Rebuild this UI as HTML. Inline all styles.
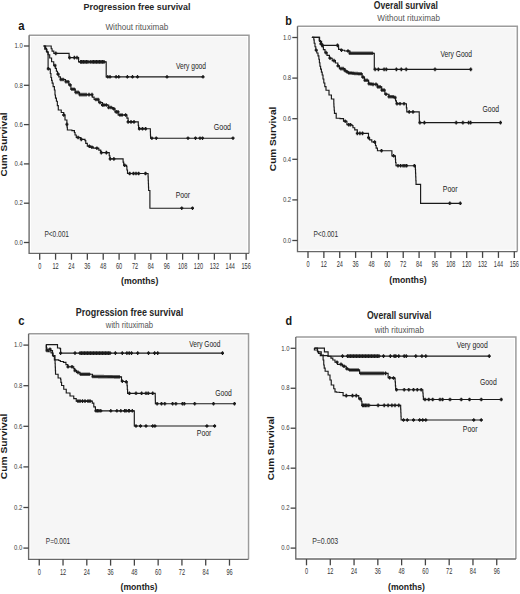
<!DOCTYPE html>
<html><head><meta charset="utf-8"><style>
html,body{margin:0;padding:0;background:#fff;}
svg{display:block;}
text{font-family:"Liberation Sans", sans-serif;}
</style></head><body>
<svg width="520" height="594" viewBox="0 0 520 594">
<rect width="520" height="594" fill="#fff"/>
<rect x="31.00" y="37.10" width="216.10" height="214.40" fill="#f6f6f6"/>
<path d="M29.1,35.2 H249 V253.4" fill="none" stroke="#9c9c9c" stroke-width="1.5"/>
<path d="M29.1,35.2 V253.4 H249" fill="none" stroke="#686868" stroke-width="1.35"/>
<path d="M23.90,242.50 H29.1" stroke="#444" stroke-width="1.3"/>
<text x="22.8" y="244.7" font-size="7.8" text-anchor="end" font-weight="normal" fill="#3a3a3a" textLength="8.3" lengthAdjust="spacingAndGlyphs" >0.0</text>
<path d="M23.90,203.20 H29.1" stroke="#444" stroke-width="1.3"/>
<text x="22.8" y="205.4" font-size="7.8" text-anchor="end" font-weight="normal" fill="#3a3a3a" textLength="8.3" lengthAdjust="spacingAndGlyphs" >0.2</text>
<path d="M23.90,163.90 H29.1" stroke="#444" stroke-width="1.3"/>
<text x="22.8" y="166.1" font-size="7.8" text-anchor="end" font-weight="normal" fill="#3a3a3a" textLength="8.3" lengthAdjust="spacingAndGlyphs" >0.4</text>
<path d="M23.90,124.60 H29.1" stroke="#444" stroke-width="1.3"/>
<text x="22.8" y="126.8" font-size="7.8" text-anchor="end" font-weight="normal" fill="#3a3a3a" textLength="8.3" lengthAdjust="spacingAndGlyphs" >0.6</text>
<path d="M23.90,85.30 H29.1" stroke="#444" stroke-width="1.3"/>
<text x="22.8" y="87.5" font-size="7.8" text-anchor="end" font-weight="normal" fill="#3a3a3a" textLength="8.3" lengthAdjust="spacingAndGlyphs" >0.8</text>
<path d="M23.90,46.00 H29.1" stroke="#444" stroke-width="1.3"/>
<text x="22.8" y="48.2" font-size="7.8" text-anchor="end" font-weight="normal" fill="#3a3a3a" textLength="8.3" lengthAdjust="spacingAndGlyphs" >1.0</text>
<path d="M39.70,253.4 V259.7" stroke="#444" stroke-width="1.3"/>
<text x="39.7" y="268.7" font-size="8.2" text-anchor="middle" font-weight="normal" fill="#333" textLength="3.1" lengthAdjust="spacingAndGlyphs" >0</text>
<path d="M55.58,253.4 V259.7" stroke="#444" stroke-width="1.3"/>
<text x="55.58" y="268.7" font-size="8.2" text-anchor="middle" font-weight="normal" fill="#333" textLength="6.2" lengthAdjust="spacingAndGlyphs" >12</text>
<path d="M71.46,253.4 V259.7" stroke="#444" stroke-width="1.3"/>
<text x="71.46" y="268.7" font-size="8.2" text-anchor="middle" font-weight="normal" fill="#333" textLength="6.2" lengthAdjust="spacingAndGlyphs" >24</text>
<path d="M87.34,253.4 V259.7" stroke="#444" stroke-width="1.3"/>
<text x="87.34" y="268.7" font-size="8.2" text-anchor="middle" font-weight="normal" fill="#333" textLength="6.2" lengthAdjust="spacingAndGlyphs" >36</text>
<path d="M103.22,253.4 V259.7" stroke="#444" stroke-width="1.3"/>
<text x="103.22" y="268.7" font-size="8.2" text-anchor="middle" font-weight="normal" fill="#333" textLength="6.2" lengthAdjust="spacingAndGlyphs" >48</text>
<path d="M119.10,253.4 V259.7" stroke="#444" stroke-width="1.3"/>
<text x="119.1" y="268.7" font-size="8.2" text-anchor="middle" font-weight="normal" fill="#333" textLength="6.2" lengthAdjust="spacingAndGlyphs" >60</text>
<path d="M134.98,253.4 V259.7" stroke="#444" stroke-width="1.3"/>
<text x="134.98" y="268.7" font-size="8.2" text-anchor="middle" font-weight="normal" fill="#333" textLength="6.2" lengthAdjust="spacingAndGlyphs" >72</text>
<path d="M150.86,253.4 V259.7" stroke="#444" stroke-width="1.3"/>
<text x="150.86" y="268.7" font-size="8.2" text-anchor="middle" font-weight="normal" fill="#333" textLength="6.2" lengthAdjust="spacingAndGlyphs" >84</text>
<path d="M166.74,253.4 V259.7" stroke="#444" stroke-width="1.3"/>
<text x="166.74" y="268.7" font-size="8.2" text-anchor="middle" font-weight="normal" fill="#333" textLength="6.2" lengthAdjust="spacingAndGlyphs" >96</text>
<path d="M182.62,253.4 V259.7" stroke="#444" stroke-width="1.3"/>
<text x="182.62" y="268.7" font-size="8.2" text-anchor="middle" font-weight="normal" fill="#333" textLength="9.3" lengthAdjust="spacingAndGlyphs" >108</text>
<path d="M198.50,253.4 V259.7" stroke="#444" stroke-width="1.3"/>
<text x="198.5" y="268.7" font-size="8.2" text-anchor="middle" font-weight="normal" fill="#333" textLength="9.3" lengthAdjust="spacingAndGlyphs" >120</text>
<path d="M214.38,253.4 V259.7" stroke="#444" stroke-width="1.3"/>
<text x="214.38" y="268.7" font-size="8.2" text-anchor="middle" font-weight="normal" fill="#333" textLength="9.3" lengthAdjust="spacingAndGlyphs" >132</text>
<path d="M230.26,253.4 V259.7" stroke="#444" stroke-width="1.3"/>
<text x="230.26" y="268.7" font-size="8.2" text-anchor="middle" font-weight="normal" fill="#333" textLength="9.3" lengthAdjust="spacingAndGlyphs" >144</text>
<path d="M246.14,253.4 V259.7" stroke="#444" stroke-width="1.3"/>
<text x="246.14" y="268.7" font-size="8.2" text-anchor="middle" font-weight="normal" fill="#333" textLength="9.3" lengthAdjust="spacingAndGlyphs" >156</text>
<text x="18.3" y="30.3" font-size="13.5" text-anchor="start" font-weight="bold" fill="#161616" textLength="6.3" lengthAdjust="spacingAndGlyphs" >a</text>
<text x="83.5" y="10.2" font-size="9.8" text-anchor="start" font-weight="bold" fill="#262626" textLength="107" lengthAdjust="spacingAndGlyphs" >Progression free survival</text>
<text x="105.4" y="29.5" font-size="8.3" text-anchor="start" font-weight="normal" fill="#555" textLength="63" lengthAdjust="spacingAndGlyphs" >Without rituximab</text>
<text x="139.7" y="283.5" font-size="9.6" text-anchor="middle" font-weight="bold" fill="#222" textLength="37.4" lengthAdjust="spacingAndGlyphs" >(months)</text>
<text x="44.4" y="237.2" font-size="8.6" text-anchor="start" font-weight="normal" fill="#333" textLength="24.6" lengthAdjust="spacingAndGlyphs" >P&lt;0.001</text>
<text x="176.0" y="68.8" font-size="8.4" text-anchor="start" font-weight="normal" fill="#222" textLength="30.0" lengthAdjust="spacingAndGlyphs" >Very good</text>
<text x="213.8" y="129.8" font-size="8.6" text-anchor="start" font-weight="normal" fill="#222" textLength="17.2" lengthAdjust="spacingAndGlyphs" >Good</text>
<text x="175.7" y="198.2" font-size="8.6" text-anchor="start" font-weight="normal" fill="#222" textLength="14.3" lengthAdjust="spacingAndGlyphs" >Poor</text>
<text x="7.1" y="144.5" font-size="8.6" text-anchor="middle" font-weight="bold" fill="#1a1a1a" textLength="64" lengthAdjust="spacingAndGlyphs" transform="rotate(-90 7.1 144.5)">Cum Survival</text>
<path d="M43.60,46.00 L50.40,46.00 L51.20,46.00 L51.20,48.70 L52.08,48.70 L52.08,51.05 L53.83,51.05 L53.83,53.40 L54.70,53.40 L69.10,53.40 L69.10,57.60 L78.30,57.60 L78.60,57.60 L78.60,61.90 L106.20,61.90 L106.20,76.80 L203.00,76.80" fill="none" stroke="#1a1a1a" stroke-width="1.15" stroke-linejoin="miter" stroke-linecap="butt"/>
<path d="M55.80,51.60 v3.60 M69.60,55.80 v3.60 M74.40,55.80 v3.60 M77.00,55.80 v3.60 M80.70,60.10 v3.60 M82.00,60.10 v3.60 M83.50,60.10 v3.60 M85.00,60.10 v3.60 M86.50,60.10 v3.60 M88.00,60.10 v3.60 M90.20,60.10 v3.60 M92.00,60.10 v3.60 M93.50,60.10 v3.60 M95.00,60.10 v3.60 M96.50,60.10 v3.60 M98.00,60.10 v3.60 M99.50,60.10 v3.60 M101.00,60.10 v3.60 M102.50,60.10 v3.60 M104.00,60.10 v3.60 M107.80,75.00 v3.60 M110.00,75.00 v3.60 M116.10,75.00 v3.60 M118.75,75.00 v3.60 M127.40,75.00 v3.60 M132.50,75.00 v3.60 M137.50,75.00 v3.60 M167.00,75.00 v3.60 M203.00,75.00 v3.60" stroke="#1a1a1a" stroke-width="1.3" fill="none"/>
<path d="M54.30,53.40 h3.0 M68.10,57.60 h3.0 M72.90,57.60 h3.0 M75.50,57.60 h3.0 M79.20,61.90 h3.0 M80.50,61.90 h3.0 M82.00,61.90 h3.0 M83.50,61.90 h3.0 M85.00,61.90 h3.0 M86.50,61.90 h3.0 M88.70,61.90 h3.0 M90.50,61.90 h3.0 M92.00,61.90 h3.0 M93.50,61.90 h3.0 M95.00,61.90 h3.0 M96.50,61.90 h3.0 M98.00,61.90 h3.0 M99.50,61.90 h3.0 M101.00,61.90 h3.0 M102.50,61.90 h3.0 M106.30,76.80 h3.0 M108.50,76.80 h3.0 M114.60,76.80 h3.0 M117.25,76.80 h3.0 M125.90,76.80 h3.0 M131.00,76.80 h3.0 M136.00,76.80 h3.0 M165.50,76.80 h3.0 M201.50,76.80 h3.0" stroke="#1a1a1a" stroke-width="1.8" fill="none"/>
<path d="M43.60,46.00 L45.60,46.00 L45.60,48.30 L46.42,48.30 L46.42,51.53 L48.05,51.53 L48.05,54.77 L49.68,54.77 L49.68,58.00 L50.50,58.00 L51.58,58.00 L51.58,61.75 L53.72,61.75 L53.72,65.50 L54.80,65.50 L55.33,65.50 L55.33,68.37 L56.40,68.37 L56.40,71.23 L57.47,71.23 L57.47,74.10 L58.00,74.10 L58.80,74.10 L58.80,76.80 L60.40,76.80 L60.40,79.50 L61.20,79.50 L65.50,79.50 L65.50,81.70 L68.80,81.70 L68.80,84.90 L70.90,84.90 L70.90,89.20 L75.20,89.20 L75.20,92.40 L79.50,92.40 L79.50,94.60 L91.40,94.60 L92.30,94.60 L92.30,97.05 L94.10,97.05 L94.10,99.50 L95.00,99.50 L98.75,99.50 L98.75,102.50 L102.50,102.50 L102.50,105.00 L106.25,105.00 L108.75,105.00 L108.75,107.50 L112.50,107.50 L112.50,108.75 L115.00,108.75 L115.00,111.90 L118.10,111.90 L118.10,115.00 L125.00,115.00 L126.90,115.00 L126.90,118.10 L128.10,118.10 L128.10,121.90 L138.10,121.90 L138.26,121.90 L138.26,125.33 L138.59,125.33 L138.59,128.75 L138.75,128.75 L150.30,128.75 L150.35,128.75 L150.35,131.90 L150.45,131.90 L150.45,135.05 L150.55,135.05 L150.55,138.20 L150.60,138.20 L233.00,138.20" fill="none" stroke="#1a1a1a" stroke-width="1.15" stroke-linejoin="miter" stroke-linecap="butt"/>
<path d="M55.00,63.70 v3.60 M58.00,72.30 v3.60 M61.00,77.70 v3.60 M63.00,77.70 v3.60 M66.00,79.90 v3.60 M68.00,79.90 v3.60 M70.00,83.10 v3.60 M72.00,87.40 v3.60 M74.00,87.40 v3.60 M76.00,90.60 v3.60 M78.00,90.60 v3.60 M80.00,92.80 v3.60 M82.00,92.80 v3.60 M84.00,92.80 v3.60 M86.00,92.80 v3.60 M89.00,92.80 v3.60 M92.00,92.80 v3.60 M96.00,97.70 v3.60 M98.00,97.70 v3.60 M100.00,100.70 v3.60 M102.50,103.20 v3.60 M104.00,103.20 v3.60 M106.25,103.20 v3.60 M108.75,105.70 v3.60 M111.00,105.70 v3.60 M113.75,106.95 v3.60 M116.25,110.10 v3.60 M118.00,110.10 v3.60 M120.00,113.20 v3.60 M122.00,113.20 v3.60 M125.60,113.20 v3.60 M128.10,120.10 v3.60 M131.00,120.10 v3.60 M134.00,120.10 v3.60 M139.40,126.95 v3.60 M142.50,126.95 v3.60 M145.60,126.95 v3.60 M151.90,136.40 v3.60 M156.25,136.40 v3.60 M188.00,136.40 v3.60 M195.50,136.40 v3.60 M200.00,136.40 v3.60 M202.50,136.40 v3.60 M233.00,136.40 v3.60" stroke="#1a1a1a" stroke-width="1.3" fill="none"/>
<path d="M53.50,65.50 h3.0 M56.50,74.10 h3.0 M59.50,79.50 h3.0 M61.50,79.50 h3.0 M64.50,81.70 h3.0 M66.50,81.70 h3.0 M68.50,84.90 h3.0 M70.50,89.20 h3.0 M72.50,89.20 h3.0 M74.50,92.40 h3.0 M76.50,92.40 h3.0 M78.50,94.60 h3.0 M80.50,94.60 h3.0 M82.50,94.60 h3.0 M84.50,94.60 h3.0 M87.50,94.60 h3.0 M90.50,94.60 h3.0 M94.50,99.50 h3.0 M96.50,99.50 h3.0 M98.50,102.50 h3.0 M101.00,105.00 h3.0 M102.50,105.00 h3.0 M104.75,105.00 h3.0 M107.25,107.50 h3.0 M109.50,107.50 h3.0 M112.25,108.75 h3.0 M114.75,111.90 h3.0 M116.50,111.90 h3.0 M118.50,115.00 h3.0 M120.50,115.00 h3.0 M124.10,115.00 h3.0 M126.60,121.90 h3.0 M129.50,121.90 h3.0 M132.50,121.90 h3.0 M137.90,128.75 h3.0 M141.00,128.75 h3.0 M144.10,128.75 h3.0 M150.40,138.20 h3.0 M154.75,138.20 h3.0 M186.50,138.20 h3.0 M194.00,138.20 h3.0 M198.50,138.20 h3.0 M201.00,138.20 h3.0 M231.50,138.20 h3.0" stroke="#1a1a1a" stroke-width="1.8" fill="none"/>
<path d="M43.60,46.00 L44.73,46.00 L44.73,49.25 L46.98,49.25 L46.98,52.50 L48.10,52.50 L48.10,68.75 L50.00,68.75 L50.00,69.40 L50.31,69.40 L50.31,73.45 L50.94,73.45 L50.94,77.50 L51.25,77.50 L51.56,77.50 L51.56,80.30 L52.19,80.30 L52.19,83.10 L52.50,83.10 L53.12,83.10 L53.12,86.55 L54.38,86.55 L54.38,90.00 L55.00,90.00 L55.00,95.00 L55.48,95.00 L55.48,98.12 L56.42,98.12 L56.42,101.25 L56.90,101.25 L57.36,101.25 L57.36,105.62 L58.29,105.62 L58.29,110.00 L58.75,110.00 L61.25,110.00 L61.25,112.50 L63.75,112.50 L63.75,115.00 L65.00,115.00 L65.00,120.00 L66.90,120.00 L66.90,124.40 L67.05,124.40 L67.05,127.20 L67.35,127.20 L67.35,130.00 L67.50,130.00 L71.90,130.00 L71.90,130.60 L74.40,130.60 L74.40,132.50 L75.03,132.50 L75.03,135.00 L76.28,135.00 L76.28,137.50 L76.90,137.50 L80.60,137.50 L80.60,139.40 L85.00,139.40 L85.00,140.60 L85.78,140.60 L85.78,143.43 L87.32,143.43 L87.32,146.25 L88.10,146.25 L89.82,146.25 L89.82,147.18 L93.28,147.18 L93.28,148.10 L95.00,148.10 L96.30,148.10 L96.30,148.20 L98.80,148.20 L98.80,150.10 L100.70,150.10 L100.70,152.60 L108.90,152.60 L109.23,152.60 L109.23,155.75 L109.88,155.75 L109.88,158.90 L110.20,158.90 L122.80,158.90 L123.10,158.90 L123.10,162.10 L123.70,162.10 L123.70,165.30 L124.00,165.30 L126.60,165.30 L126.60,166.50 L126.90,166.50 L126.90,170.00 L127.50,170.00 L127.50,173.50 L127.80,173.50 L148.00,173.50 L148.07,173.50 L148.07,176.90 L148.21,176.90 L148.21,180.30 L148.35,180.30 L148.35,183.70 L148.49,183.70 L148.49,187.10 L148.63,187.10 L148.63,190.50 L148.70,190.50 L149.90,190.50 L149.90,208.20 L192.50,208.20" fill="none" stroke="#1a1a1a" stroke-width="1.15" stroke-linejoin="miter" stroke-linecap="butt"/>
<path d="M48.30,66.95 v3.60 M63.75,113.20 v3.60 M66.90,122.60 v3.60 M78.10,135.70 v3.60 M81.25,137.60 v3.60 M89.40,144.45 v3.60 M91.90,145.38 v3.60 M96.90,146.40 v3.60 M101.30,150.80 v3.60 M106.40,150.80 v3.60 M110.20,157.10 v3.60 M113.90,157.10 v3.60 M124.70,163.50 v3.60 M129.70,171.70 v3.60 M133.50,171.70 v3.60 M136.00,171.70 v3.60 M138.60,171.70 v3.60 M145.50,171.70 v3.60 M181.75,206.40 v3.60 M192.50,206.40 v3.60" stroke="#1a1a1a" stroke-width="1.3" fill="none"/>
<path d="M46.80,68.75 h3.0 M62.25,115.00 h3.0 M65.40,124.40 h3.0 M76.60,137.50 h3.0 M79.75,139.40 h3.0 M87.90,146.25 h3.0 M90.40,147.18 h3.0 M95.40,148.20 h3.0 M99.80,152.60 h3.0 M104.90,152.60 h3.0 M108.70,158.90 h3.0 M112.40,158.90 h3.0 M123.20,165.30 h3.0 M128.20,173.50 h3.0 M132.00,173.50 h3.0 M134.50,173.50 h3.0 M137.10,173.50 h3.0 M144.00,173.50 h3.0 M180.25,208.20 h3.0 M191.00,208.20 h3.0" stroke="#1a1a1a" stroke-width="1.8" fill="none"/>
<rect x="299.40" y="28.10" width="216.00" height="221.60" fill="#f6f6f6"/>
<path d="M297.5,26.2 H517.3 V251.6" fill="none" stroke="#9c9c9c" stroke-width="1.5"/>
<path d="M297.5,26.2 V251.6 H517.3" fill="none" stroke="#686868" stroke-width="1.35"/>
<path d="M292.30,240.50 H297.5" stroke="#444" stroke-width="1.3"/>
<text x="291.2" y="242.7" font-size="7.8" text-anchor="end" font-weight="normal" fill="#3a3a3a" textLength="8.3" lengthAdjust="spacingAndGlyphs" >0.0</text>
<path d="M292.30,199.90 H297.5" stroke="#444" stroke-width="1.3"/>
<text x="291.2" y="202.1" font-size="7.8" text-anchor="end" font-weight="normal" fill="#3a3a3a" textLength="8.3" lengthAdjust="spacingAndGlyphs" >0.2</text>
<path d="M292.30,159.30 H297.5" stroke="#444" stroke-width="1.3"/>
<text x="291.2" y="161.5" font-size="7.8" text-anchor="end" font-weight="normal" fill="#3a3a3a" textLength="8.3" lengthAdjust="spacingAndGlyphs" >0.4</text>
<path d="M292.30,118.70 H297.5" stroke="#444" stroke-width="1.3"/>
<text x="291.2" y="120.9" font-size="7.8" text-anchor="end" font-weight="normal" fill="#3a3a3a" textLength="8.3" lengthAdjust="spacingAndGlyphs" >0.6</text>
<path d="M292.30,78.10 H297.5" stroke="#444" stroke-width="1.3"/>
<text x="291.2" y="80.3" font-size="7.8" text-anchor="end" font-weight="normal" fill="#3a3a3a" textLength="8.3" lengthAdjust="spacingAndGlyphs" >0.8</text>
<path d="M292.30,37.50 H297.5" stroke="#444" stroke-width="1.3"/>
<text x="291.2" y="39.7" font-size="7.8" text-anchor="end" font-weight="normal" fill="#3a3a3a" textLength="8.3" lengthAdjust="spacingAndGlyphs" >1.0</text>
<path d="M308.00,251.6 V257.9" stroke="#444" stroke-width="1.3"/>
<text x="308.0" y="266.8" font-size="8.2" text-anchor="middle" font-weight="normal" fill="#333" textLength="3.1" lengthAdjust="spacingAndGlyphs" >0</text>
<path d="M323.87,251.6 V257.9" stroke="#444" stroke-width="1.3"/>
<text x="323.87" y="266.8" font-size="8.2" text-anchor="middle" font-weight="normal" fill="#333" textLength="6.2" lengthAdjust="spacingAndGlyphs" >12</text>
<path d="M339.74,251.6 V257.9" stroke="#444" stroke-width="1.3"/>
<text x="339.74" y="266.8" font-size="8.2" text-anchor="middle" font-weight="normal" fill="#333" textLength="6.2" lengthAdjust="spacingAndGlyphs" >24</text>
<path d="M355.61,251.6 V257.9" stroke="#444" stroke-width="1.3"/>
<text x="355.61" y="266.8" font-size="8.2" text-anchor="middle" font-weight="normal" fill="#333" textLength="6.2" lengthAdjust="spacingAndGlyphs" >36</text>
<path d="M371.48,251.6 V257.9" stroke="#444" stroke-width="1.3"/>
<text x="371.48" y="266.8" font-size="8.2" text-anchor="middle" font-weight="normal" fill="#333" textLength="6.2" lengthAdjust="spacingAndGlyphs" >48</text>
<path d="M387.35,251.6 V257.9" stroke="#444" stroke-width="1.3"/>
<text x="387.35" y="266.8" font-size="8.2" text-anchor="middle" font-weight="normal" fill="#333" textLength="6.2" lengthAdjust="spacingAndGlyphs" >60</text>
<path d="M403.22,251.6 V257.9" stroke="#444" stroke-width="1.3"/>
<text x="403.22" y="266.8" font-size="8.2" text-anchor="middle" font-weight="normal" fill="#333" textLength="6.2" lengthAdjust="spacingAndGlyphs" >72</text>
<path d="M419.09,251.6 V257.9" stroke="#444" stroke-width="1.3"/>
<text x="419.09" y="266.8" font-size="8.2" text-anchor="middle" font-weight="normal" fill="#333" textLength="6.2" lengthAdjust="spacingAndGlyphs" >84</text>
<path d="M434.96,251.6 V257.9" stroke="#444" stroke-width="1.3"/>
<text x="434.96" y="266.8" font-size="8.2" text-anchor="middle" font-weight="normal" fill="#333" textLength="6.2" lengthAdjust="spacingAndGlyphs" >96</text>
<path d="M450.83,251.6 V257.9" stroke="#444" stroke-width="1.3"/>
<text x="450.83" y="266.8" font-size="8.2" text-anchor="middle" font-weight="normal" fill="#333" textLength="9.3" lengthAdjust="spacingAndGlyphs" >108</text>
<path d="M466.70,251.6 V257.9" stroke="#444" stroke-width="1.3"/>
<text x="466.7" y="266.8" font-size="8.2" text-anchor="middle" font-weight="normal" fill="#333" textLength="9.3" lengthAdjust="spacingAndGlyphs" >120</text>
<path d="M482.57,251.6 V257.9" stroke="#444" stroke-width="1.3"/>
<text x="482.57" y="266.8" font-size="8.2" text-anchor="middle" font-weight="normal" fill="#333" textLength="9.3" lengthAdjust="spacingAndGlyphs" >132</text>
<path d="M498.44,251.6 V257.9" stroke="#444" stroke-width="1.3"/>
<text x="498.44" y="266.8" font-size="8.2" text-anchor="middle" font-weight="normal" fill="#333" textLength="9.3" lengthAdjust="spacingAndGlyphs" >144</text>
<path d="M514.31,251.6 V257.9" stroke="#444" stroke-width="1.3"/>
<text x="514.31" y="266.8" font-size="8.2" text-anchor="middle" font-weight="normal" fill="#333" textLength="9.3" lengthAdjust="spacingAndGlyphs" >156</text>
<text x="285.2" y="24.9" font-size="13.5" text-anchor="start" font-weight="bold" fill="#161616" textLength="6.6" lengthAdjust="spacingAndGlyphs" >b</text>
<text x="373.8" y="8.8" font-size="10" text-anchor="start" font-weight="bold" fill="#262626" textLength="64" lengthAdjust="spacingAndGlyphs" >Overall survival</text>
<text x="377.3" y="21.3" font-size="8.3" text-anchor="start" font-weight="normal" fill="#555" textLength="62.7" lengthAdjust="spacingAndGlyphs" >Without rituximab</text>
<text x="408.0" y="282.5" font-size="9.6" text-anchor="middle" font-weight="bold" fill="#222" textLength="37.4" lengthAdjust="spacingAndGlyphs" >(months)</text>
<text x="313.5" y="237.1" font-size="8.6" text-anchor="start" font-weight="normal" fill="#333" textLength="24.6" lengthAdjust="spacingAndGlyphs" >P&lt;0.001</text>
<text x="440.5" y="56.5" font-size="8.6" text-anchor="start" font-weight="normal" fill="#222" textLength="31.5" lengthAdjust="spacingAndGlyphs" >Very Good</text>
<text x="482.5" y="111.7" font-size="8.8" text-anchor="start" font-weight="normal" fill="#222" textLength="16.6" lengthAdjust="spacingAndGlyphs" >Good</text>
<text x="442.8" y="192.0" font-size="8.6" text-anchor="start" font-weight="normal" fill="#222" textLength="14.7" lengthAdjust="spacingAndGlyphs" >Poor</text>
<text x="275.8" y="138.9" font-size="8.6" text-anchor="middle" font-weight="bold" fill="#1a1a1a" textLength="64.5" lengthAdjust="spacingAndGlyphs" transform="rotate(-90 275.8 138.9)">Cum Survival</text>
<path d="M311.90,37.40 L318.60,37.40 L319.60,37.40 L319.60,41.40 L321.60,41.40 L321.60,45.40 L322.60,45.40 L337.00,45.40 L338.60,45.40 L338.60,49.40 L340.60,49.40 L340.60,50.20 L344.60,50.20 L344.60,51.00 L346.60,51.00 L350.00,51.00 L350.00,53.30 L374.30,53.30 L374.30,69.40 L470.75,69.40" fill="none" stroke="#1a1a1a" stroke-width="1.15" stroke-linejoin="miter" stroke-linecap="butt"/>
<path d="M322.60,43.60 v3.60 M337.50,43.60 v3.60 M341.50,48.40 v3.60 M348.00,49.20 v3.60 M350.00,51.50 v3.60 M352.00,51.50 v3.60 M354.00,51.50 v3.60 M356.00,51.50 v3.60 M358.00,51.50 v3.60 M360.00,51.50 v3.60 M362.00,51.50 v3.60 M364.00,51.50 v3.60 M366.00,51.50 v3.60 M368.00,51.50 v3.60 M370.00,51.50 v3.60 M372.00,51.50 v3.60 M375.10,67.60 v3.60 M378.40,67.60 v3.60 M384.10,67.60 v3.60 M386.25,67.60 v3.60 M396.40,67.60 v3.60 M401.30,67.60 v3.60 M406.20,67.60 v3.60 M435.00,67.60 v3.60 M470.75,67.60 v3.60" stroke="#1a1a1a" stroke-width="1.3" fill="none"/>
<path d="M321.10,45.40 h3.0 M336.00,45.40 h3.0 M340.00,50.20 h3.0 M346.50,51.00 h3.0 M348.50,53.30 h3.0 M350.50,53.30 h3.0 M352.50,53.30 h3.0 M354.50,53.30 h3.0 M356.50,53.30 h3.0 M358.50,53.30 h3.0 M360.50,53.30 h3.0 M362.50,53.30 h3.0 M364.50,53.30 h3.0 M366.50,53.30 h3.0 M368.50,53.30 h3.0 M370.50,53.30 h3.0 M373.60,69.40 h3.0 M376.90,69.40 h3.0 M382.60,69.40 h3.0 M384.75,69.40 h3.0 M394.90,69.40 h3.0 M399.80,69.40 h3.0 M404.70,69.40 h3.0 M433.50,69.40 h3.0 M469.25,69.40 h3.0" stroke="#1a1a1a" stroke-width="1.8" fill="none"/>
<path d="M311.90,37.40 L318.60,37.40 L319.20,37.40 L319.20,40.60 L320.40,40.60 L320.40,43.80 L321.00,43.80 L321.80,43.80 L321.80,46.73 L323.40,46.73 L323.40,49.67 L325.00,49.67 L325.00,52.60 L325.80,52.60 L327.00,52.60 L327.00,55.40 L329.40,55.40 L329.40,58.20 L330.60,58.20 L332.20,58.20 L332.20,60.60 L335.40,60.60 L335.40,63.00 L337.00,63.00 L337.80,63.00 L337.80,65.80 L339.40,65.80 L339.40,68.60 L340.20,68.60 L344.90,68.60 L344.90,70.50 L346.12,70.50 L346.12,71.75 L348.57,71.75 L348.57,73.00 L349.80,73.00 L351.43,73.00 L351.43,73.27 L354.70,73.27 L354.70,73.53 L357.97,73.53 L357.97,73.80 L359.60,73.80 L362.10,73.80 L362.10,77.10 L364.50,77.10 L364.50,80.30 L368.60,80.30 L368.60,83.60 L370.03,83.60 L370.03,84.00 L372.88,84.00 L372.88,84.40 L374.30,84.40 L377.60,84.40 L377.60,86.90 L381.70,86.90 L381.70,90.10 L384.90,90.10 L384.90,94.20 L389.00,94.20 L389.00,96.70 L393.10,96.70 L393.10,97.50 L395.60,97.50 L395.60,100.80 L396.40,100.80 L396.40,103.70 L406.20,103.70 L406.40,103.70 L406.40,107.80 L406.80,107.80 L406.80,111.90 L407.00,111.90 L419.20,111.90 L419.23,111.90 L419.23,115.47 L419.30,115.47 L419.30,119.03 L419.37,119.03 L419.37,122.60 L419.40,122.60 L500.50,122.60" fill="none" stroke="#1a1a1a" stroke-width="1.15" stroke-linejoin="miter" stroke-linecap="butt"/>
<path d="M321.00,42.00 v3.60 M326.00,50.80 v3.60 M330.00,56.40 v3.60 M334.00,58.80 v3.60 M338.00,64.00 v3.60 M341.00,66.80 v3.60 M343.00,66.80 v3.60 M345.00,68.70 v3.60 M347.00,69.95 v3.60 M349.00,71.20 v3.60 M351.00,71.20 v3.60 M353.00,71.47 v3.60 M355.00,71.73 v3.60 M357.00,71.73 v3.60 M359.00,72.00 v3.60 M361.00,72.00 v3.60 M363.00,75.30 v3.60 M365.00,78.50 v3.60 M367.00,78.50 v3.60 M369.00,81.80 v3.60 M371.00,82.20 v3.60 M373.00,82.60 v3.60 M376.00,82.60 v3.60 M378.00,85.10 v3.60 M380.00,85.10 v3.60 M382.00,88.30 v3.60 M384.00,88.30 v3.60 M386.00,92.40 v3.60 M389.00,94.90 v3.60 M391.00,94.90 v3.60 M393.00,94.90 v3.60 M395.00,95.70 v3.60 M397.00,101.90 v3.60 M400.00,101.90 v3.60 M404.00,101.90 v3.60 M409.20,110.10 v3.60 M413.00,110.10 v3.60 M419.90,120.80 v3.60 M424.40,120.80 v3.60 M456.20,120.80 v3.60 M462.90,120.80 v3.60 M468.70,120.80 v3.60 M470.60,120.80 v3.60 M500.50,120.80 v3.60" stroke="#1a1a1a" stroke-width="1.3" fill="none"/>
<path d="M319.50,43.80 h3.0 M324.50,52.60 h3.0 M328.50,58.20 h3.0 M332.50,60.60 h3.0 M336.50,65.80 h3.0 M339.50,68.60 h3.0 M341.50,68.60 h3.0 M343.50,70.50 h3.0 M345.50,71.75 h3.0 M347.50,73.00 h3.0 M349.50,73.00 h3.0 M351.50,73.27 h3.0 M353.50,73.53 h3.0 M355.50,73.53 h3.0 M357.50,73.80 h3.0 M359.50,73.80 h3.0 M361.50,77.10 h3.0 M363.50,80.30 h3.0 M365.50,80.30 h3.0 M367.50,83.60 h3.0 M369.50,84.00 h3.0 M371.50,84.40 h3.0 M374.50,84.40 h3.0 M376.50,86.90 h3.0 M378.50,86.90 h3.0 M380.50,90.10 h3.0 M382.50,90.10 h3.0 M384.50,94.20 h3.0 M387.50,96.70 h3.0 M389.50,96.70 h3.0 M391.50,96.70 h3.0 M393.50,97.50 h3.0 M395.50,103.70 h3.0 M398.50,103.70 h3.0 M402.50,103.70 h3.0 M407.70,111.90 h3.0 M411.50,111.90 h3.0 M418.40,122.60 h3.0 M422.90,122.60 h3.0 M454.70,122.60 h3.0 M461.40,122.60 h3.0 M467.20,122.60 h3.0 M469.10,122.60 h3.0 M499.00,122.60 h3.0" stroke="#1a1a1a" stroke-width="1.8" fill="none"/>
<path d="M311.90,37.40 L313.80,37.40 L313.80,39.80 L314.20,39.80 L314.20,43.27 L315.00,43.27 L315.00,46.73 L315.80,46.73 L315.80,50.20 L316.20,50.20 L316.80,50.20 L316.80,53.00 L318.00,53.00 L318.00,55.80 L318.60,55.80 L318.87,55.80 L318.87,59.27 L319.40,59.27 L319.40,62.73 L319.93,62.73 L319.93,66.20 L320.20,66.20 L320.60,66.20 L320.60,69.13 L321.40,69.13 L321.40,72.07 L322.20,72.07 L322.20,75.00 L322.60,75.00 L323.00,75.00 L323.00,79.00 L323.80,79.00 L323.80,83.00 L324.20,83.00 L324.80,83.00 L324.80,86.60 L326.00,86.60 L326.00,90.20 L326.60,90.20 L329.00,90.20 L329.00,95.00 L331.40,95.00 L331.40,99.00 L333.80,99.00 L333.80,103.80 L333.93,103.80 L333.93,107.00 L334.20,107.00 L334.20,110.20 L334.47,110.20 L334.47,113.40 L334.60,113.40 L336.20,113.40 L336.20,118.20 L340.00,118.20 L340.00,118.60 L343.50,118.60 L343.50,121.20 L346.90,121.20 L346.90,124.70 L352.10,124.70 L352.10,125.60 L352.98,125.60 L352.98,127.75 L354.73,127.75 L354.73,129.90 L355.60,129.90 L357.30,129.90 L357.30,133.40 L366.00,133.40 L368.50,133.40 L368.50,137.70 L369.60,137.70 L369.60,139.85 L371.80,139.85 L371.80,142.00 L372.90,142.00 L375.50,142.00 L375.50,145.50 L376.15,145.50 L376.15,148.10 L377.45,148.10 L377.45,150.70 L378.10,150.70 L391.00,150.70 L391.90,150.70 L391.90,155.80 L395.40,155.80 L395.40,159.30 L395.60,159.30 L395.60,162.50 L396.00,162.50 L396.00,165.70 L396.20,165.70 L415.30,165.70 L415.38,165.70 L415.38,169.44 L415.54,169.44 L415.54,173.18 L415.70,173.18 L415.70,176.92 L415.86,176.92 L415.86,180.66 L416.02,180.66 L416.02,184.40 L416.10,184.40 L420.60,184.40 L420.60,203.30 L460.30,203.30" fill="none" stroke="#1a1a1a" stroke-width="1.15" stroke-linejoin="miter" stroke-linecap="butt"/>
<path d="M316.20,48.40 v3.60 M345.20,119.40 v3.60 M348.70,122.90 v3.60 M350.40,122.90 v3.60 M357.30,131.60 v3.60 M359.90,131.60 v3.60 M362.50,131.60 v3.60 M368.50,135.90 v3.60 M374.60,140.20 v3.60 M381.50,148.90 v3.60 M393.60,154.00 v3.60 M398.00,163.90 v3.60 M400.60,163.90 v3.60 M403.10,163.90 v3.60 M404.90,163.90 v3.60 M406.60,163.90 v3.60 M414.40,163.90 v3.60 M449.80,201.50 v3.60 M460.30,201.50 v3.60" stroke="#1a1a1a" stroke-width="1.3" fill="none"/>
<path d="M314.70,50.20 h3.0 M343.70,121.20 h3.0 M347.20,124.70 h3.0 M348.90,124.70 h3.0 M355.80,133.40 h3.0 M358.40,133.40 h3.0 M361.00,133.40 h3.0 M367.00,137.70 h3.0 M373.10,142.00 h3.0 M380.00,150.70 h3.0 M392.10,155.80 h3.0 M396.50,165.70 h3.0 M399.10,165.70 h3.0 M401.60,165.70 h3.0 M403.40,165.70 h3.0 M405.10,165.70 h3.0 M412.90,165.70 h3.0 M448.30,203.30 h3.0 M458.80,203.30 h3.0" stroke="#1a1a1a" stroke-width="1.8" fill="none"/>
<rect x="30.50" y="335.70" width="216.10" height="221.70" fill="#f6f6f6"/>
<path d="M28.6,333.8 H248.5 V559.3" fill="none" stroke="#9c9c9c" stroke-width="1.5"/>
<path d="M28.6,333.8 V559.3 H248.5" fill="none" stroke="#686868" stroke-width="1.35"/>
<path d="M23.40,548.10 H28.6" stroke="#444" stroke-width="1.3"/>
<text x="22.3" y="550.3" font-size="7.8" text-anchor="end" font-weight="normal" fill="#3a3a3a" textLength="8.3" lengthAdjust="spacingAndGlyphs" >0.0</text>
<path d="M23.40,507.50 H28.6" stroke="#444" stroke-width="1.3"/>
<text x="22.3" y="509.7" font-size="7.8" text-anchor="end" font-weight="normal" fill="#3a3a3a" textLength="8.3" lengthAdjust="spacingAndGlyphs" >0.2</text>
<path d="M23.40,466.90 H28.6" stroke="#444" stroke-width="1.3"/>
<text x="22.3" y="469.1" font-size="7.8" text-anchor="end" font-weight="normal" fill="#3a3a3a" textLength="8.3" lengthAdjust="spacingAndGlyphs" >0.4</text>
<path d="M23.40,426.30 H28.6" stroke="#444" stroke-width="1.3"/>
<text x="22.3" y="428.5" font-size="7.8" text-anchor="end" font-weight="normal" fill="#3a3a3a" textLength="8.3" lengthAdjust="spacingAndGlyphs" >0.6</text>
<path d="M23.40,385.70 H28.6" stroke="#444" stroke-width="1.3"/>
<text x="22.3" y="387.9" font-size="7.8" text-anchor="end" font-weight="normal" fill="#3a3a3a" textLength="8.3" lengthAdjust="spacingAndGlyphs" >0.8</text>
<path d="M23.40,345.10 H28.6" stroke="#444" stroke-width="1.3"/>
<text x="22.3" y="347.3" font-size="7.8" text-anchor="end" font-weight="normal" fill="#3a3a3a" textLength="8.3" lengthAdjust="spacingAndGlyphs" >1.0</text>
<path d="M39.25,559.3 V565.5999999999999" stroke="#444" stroke-width="1.3"/>
<text x="39.25" y="574.5" font-size="8.2" text-anchor="middle" font-weight="normal" fill="#333" textLength="3.1" lengthAdjust="spacingAndGlyphs" >0</text>
<path d="M63.03,559.3 V565.5999999999999" stroke="#444" stroke-width="1.3"/>
<text x="63.03" y="574.5" font-size="8.2" text-anchor="middle" font-weight="normal" fill="#333" textLength="6.2" lengthAdjust="spacingAndGlyphs" >12</text>
<path d="M86.81,559.3 V565.5999999999999" stroke="#444" stroke-width="1.3"/>
<text x="86.81" y="574.5" font-size="8.2" text-anchor="middle" font-weight="normal" fill="#333" textLength="6.2" lengthAdjust="spacingAndGlyphs" >24</text>
<path d="M110.59,559.3 V565.5999999999999" stroke="#444" stroke-width="1.3"/>
<text x="110.59" y="574.5" font-size="8.2" text-anchor="middle" font-weight="normal" fill="#333" textLength="6.2" lengthAdjust="spacingAndGlyphs" >36</text>
<path d="M134.37,559.3 V565.5999999999999" stroke="#444" stroke-width="1.3"/>
<text x="134.37" y="574.5" font-size="8.2" text-anchor="middle" font-weight="normal" fill="#333" textLength="6.2" lengthAdjust="spacingAndGlyphs" >48</text>
<path d="M158.15,559.3 V565.5999999999999" stroke="#444" stroke-width="1.3"/>
<text x="158.15" y="574.5" font-size="8.2" text-anchor="middle" font-weight="normal" fill="#333" textLength="6.2" lengthAdjust="spacingAndGlyphs" >60</text>
<path d="M181.93,559.3 V565.5999999999999" stroke="#444" stroke-width="1.3"/>
<text x="181.93" y="574.5" font-size="8.2" text-anchor="middle" font-weight="normal" fill="#333" textLength="6.2" lengthAdjust="spacingAndGlyphs" >72</text>
<path d="M205.71,559.3 V565.5999999999999" stroke="#444" stroke-width="1.3"/>
<text x="205.71" y="574.5" font-size="8.2" text-anchor="middle" font-weight="normal" fill="#333" textLength="6.2" lengthAdjust="spacingAndGlyphs" >84</text>
<path d="M229.49,559.3 V565.5999999999999" stroke="#444" stroke-width="1.3"/>
<text x="229.49" y="574.5" font-size="8.2" text-anchor="middle" font-weight="normal" fill="#333" textLength="6.2" lengthAdjust="spacingAndGlyphs" >96</text>
<text x="18.3" y="325.3" font-size="13.5" text-anchor="start" font-weight="bold" fill="#161616" textLength="6.3" lengthAdjust="spacingAndGlyphs" >c</text>
<text x="75.8" y="315.6" font-size="10" text-anchor="start" font-weight="bold" fill="#262626" textLength="107.4" lengthAdjust="spacingAndGlyphs" >Progression free survival</text>
<text x="105.8" y="327.7" font-size="8.2" text-anchor="start" font-weight="normal" fill="#555" textLength="47.3" lengthAdjust="spacingAndGlyphs" >with rituximab</text>
<text x="139.0" y="590.2" font-size="9.6" text-anchor="middle" font-weight="bold" fill="#222" textLength="37" lengthAdjust="spacingAndGlyphs" >(months)</text>
<text x="45.8" y="544.4" font-size="8.6" text-anchor="start" font-weight="normal" fill="#333" textLength="24.4" lengthAdjust="spacingAndGlyphs" >P=0.001</text>
<text x="189.3" y="346.9" font-size="8.2" text-anchor="start" font-weight="normal" fill="#222" textLength="31.1" lengthAdjust="spacingAndGlyphs" >Very Good</text>
<text x="215.3" y="396.0" font-size="8.8" text-anchor="start" font-weight="normal" fill="#222" textLength="16.5" lengthAdjust="spacingAndGlyphs" >Good</text>
<text x="196.8" y="435.5" font-size="8.6" text-anchor="start" font-weight="normal" fill="#222" textLength="14.5" lengthAdjust="spacingAndGlyphs" >Poor</text>
<text x="6.8" y="446.5" font-size="8.6" text-anchor="middle" font-weight="bold" fill="#1a1a1a" textLength="65.5" lengthAdjust="spacingAndGlyphs" transform="rotate(-90 6.8 446.5)">Cum Survival</text>
<path d="M46.25,344.60 L56.90,344.60 L57.50,344.60 L57.50,348.00 L60.00,348.00 L60.00,348.60 L60.60,348.60 L60.60,353.10 L222.50,353.10" fill="none" stroke="#1a1a1a" stroke-width="1.15" stroke-linejoin="miter" stroke-linecap="butt"/>
<path d="M60.60,351.30 v3.60 M75.00,351.30 v3.60 M80.00,351.30 v3.60 M81.50,351.30 v3.60 M83.00,351.30 v3.60 M84.50,351.30 v3.60 M86.00,351.30 v3.60 M87.50,351.30 v3.60 M89.00,351.30 v3.60 M90.50,351.30 v3.60 M92.00,351.30 v3.60 M93.50,351.30 v3.60 M95.00,351.30 v3.60 M96.50,351.30 v3.60 M98.00,351.30 v3.60 M99.50,351.30 v3.60 M101.00,351.30 v3.60 M102.50,351.30 v3.60 M104.00,351.30 v3.60 M105.50,351.30 v3.60 M107.00,351.30 v3.60 M108.50,351.30 v3.60 M110.00,351.30 v3.60 M115.40,351.30 v3.60 M122.30,351.30 v3.60 M126.90,351.30 v3.60 M129.20,351.30 v3.60 M131.50,351.30 v3.60 M137.70,351.30 v3.60 M148.50,351.30 v3.60 M154.60,351.30 v3.60 M157.70,351.30 v3.60 M222.50,351.30 v3.60" stroke="#1a1a1a" stroke-width="1.3" fill="none"/>
<path d="M59.10,353.10 h3.0 M73.50,353.10 h3.0 M78.50,353.10 h3.0 M80.00,353.10 h3.0 M81.50,353.10 h3.0 M83.00,353.10 h3.0 M84.50,353.10 h3.0 M86.00,353.10 h3.0 M87.50,353.10 h3.0 M89.00,353.10 h3.0 M90.50,353.10 h3.0 M92.00,353.10 h3.0 M93.50,353.10 h3.0 M95.00,353.10 h3.0 M96.50,353.10 h3.0 M98.00,353.10 h3.0 M99.50,353.10 h3.0 M101.00,353.10 h3.0 M102.50,353.10 h3.0 M104.00,353.10 h3.0 M105.50,353.10 h3.0 M107.00,353.10 h3.0 M108.50,353.10 h3.0 M113.90,353.10 h3.0 M120.80,353.10 h3.0 M125.40,353.10 h3.0 M127.70,353.10 h3.0 M130.00,353.10 h3.0 M136.20,353.10 h3.0 M147.00,353.10 h3.0 M153.10,353.10 h3.0 M156.20,353.10 h3.0 M221.00,353.10 h3.0" stroke="#1a1a1a" stroke-width="1.8" fill="none"/>
<path d="M46.25,344.60 L46.25,349.25 L48.75,349.25 L50.60,349.25 L50.60,350.50 L52.50,350.50 L52.50,355.50 L55.00,355.50 L55.00,359.90 L58.75,359.90 L58.75,360.50 L60.31,360.50 L60.31,361.45 L63.44,361.45 L63.44,362.40 L65.00,362.40 L65.94,362.40 L65.94,364.57 L67.81,364.57 L67.81,366.75 L68.75,366.75 L73.75,366.75 L73.75,368.60 L74.69,368.60 L74.69,370.50 L76.56,370.50 L76.56,372.40 L77.50,372.40 L80.00,372.40 L80.00,374.25 L91.25,374.25 L92.50,374.25 L92.50,376.50 L94.22,376.50 L94.22,376.55 L97.66,376.55 L97.66,376.60 L101.09,376.60 L101.09,376.65 L104.53,376.65 L104.53,376.70 L107.97,376.70 L107.97,376.75 L111.41,376.75 L111.41,376.80 L114.84,376.80 L114.84,376.85 L118.28,376.85 L118.28,376.90 L120.00,376.90 L121.50,376.90 L121.50,381.20 L122.85,381.20 L122.85,381.50 L125.55,381.50 L125.55,381.80 L126.90,381.80 L127.03,381.80 L127.03,385.63 L127.30,385.63 L127.30,389.47 L127.57,389.47 L127.57,393.30 L127.70,393.30 L155.20,393.30 L155.23,393.30 L155.23,396.77 L155.30,396.77 L155.30,400.23 L155.37,400.23 L155.37,403.70 L155.40,403.70 L234.50,403.70" fill="none" stroke="#1a1a1a" stroke-width="1.15" stroke-linejoin="miter" stroke-linecap="butt"/>
<path d="M50.00,347.45 v3.60 M68.00,364.95 v3.60 M72.00,364.95 v3.60 M75.00,368.70 v3.60 M78.00,370.60 v3.60 M81.00,372.45 v3.60 M83.00,372.45 v3.60 M85.00,372.45 v3.60 M87.00,372.45 v3.60 M89.00,372.45 v3.60 M93.00,374.70 v3.60 M95.00,374.75 v3.60 M97.00,374.75 v3.60 M99.00,374.80 v3.60 M101.00,374.80 v3.60 M103.00,374.85 v3.60 M105.00,374.90 v3.60 M107.00,374.90 v3.60 M109.00,374.95 v3.60 M111.00,374.95 v3.60 M113.00,375.00 v3.60 M115.00,375.05 v3.60 M117.00,375.05 v3.60 M119.00,375.10 v3.60 M122.30,379.40 v3.60 M126.20,380.00 v3.60 M129.40,391.50 v3.60 M136.00,391.50 v3.60 M141.60,391.50 v3.60 M146.00,391.50 v3.60 M148.20,391.50 v3.60 M152.70,391.50 v3.60 M157.10,401.90 v3.60 M161.50,401.90 v3.60 M164.80,401.90 v3.60 M172.60,401.90 v3.60 M175.90,401.90 v3.60 M182.50,401.90 v3.60 M184.30,401.90 v3.60 M194.70,401.90 v3.60 M213.50,401.90 v3.60 M234.50,401.90 v3.60" stroke="#1a1a1a" stroke-width="1.3" fill="none"/>
<path d="M48.50,349.25 h3.0 M66.50,366.75 h3.0 M70.50,366.75 h3.0 M73.50,370.50 h3.0 M76.50,372.40 h3.0 M79.50,374.25 h3.0 M81.50,374.25 h3.0 M83.50,374.25 h3.0 M85.50,374.25 h3.0 M87.50,374.25 h3.0 M91.50,376.50 h3.0 M93.50,376.55 h3.0 M95.50,376.55 h3.0 M97.50,376.60 h3.0 M99.50,376.60 h3.0 M101.50,376.65 h3.0 M103.50,376.70 h3.0 M105.50,376.70 h3.0 M107.50,376.75 h3.0 M109.50,376.75 h3.0 M111.50,376.80 h3.0 M113.50,376.85 h3.0 M115.50,376.85 h3.0 M117.50,376.90 h3.0 M120.80,381.20 h3.0 M124.70,381.80 h3.0 M127.90,393.30 h3.0 M134.50,393.30 h3.0 M140.10,393.30 h3.0 M144.50,393.30 h3.0 M146.70,393.30 h3.0 M151.20,393.30 h3.0 M155.60,403.70 h3.0 M160.00,403.70 h3.0 M163.30,403.70 h3.0 M171.10,403.70 h3.0 M174.40,403.70 h3.0 M181.00,403.70 h3.0 M182.80,403.70 h3.0 M193.20,403.70 h3.0 M212.00,403.70 h3.0 M233.00,403.70 h3.0" stroke="#1a1a1a" stroke-width="1.8" fill="none"/>
<path d="M46.25,344.60 L46.41,344.60 L46.41,347.55 L46.74,347.55 L46.74,350.50 L46.90,350.50 L48.30,350.50 L48.30,351.75 L51.10,351.75 L51.10,353.00 L52.50,353.00 L53.12,353.00 L53.12,356.45 L54.38,356.45 L54.38,359.90 L55.00,359.90 L55.08,359.90 L55.08,363.49 L55.23,363.49 L55.23,367.07 L55.38,367.07 L55.38,370.66 L55.52,370.66 L55.52,374.25 L55.60,374.25 L58.10,374.25 L58.10,378.00 L60.60,378.00 L60.60,379.25 L60.92,379.25 L60.92,382.38 L61.58,382.38 L61.58,385.50 L61.90,385.50 L63.75,385.50 L63.75,389.25 L66.25,389.25 L66.25,393.00 L70.00,393.00 L70.00,396.00 L73.75,396.00 L73.75,398.60 L76.25,398.60 L76.25,401.10 L91.25,401.10 L92.30,401.10 L92.30,403.10 L93.80,403.10 L93.80,406.90 L95.40,406.90 L95.40,410.80 L134.30,410.80 L134.30,426.00 L214.60,426.00" fill="none" stroke="#1a1a1a" stroke-width="1.15" stroke-linejoin="miter" stroke-linecap="butt"/>
<path d="M47.00,348.70 v3.60 M78.00,399.30 v3.60 M80.00,399.30 v3.60 M82.50,399.30 v3.60 M85.00,399.30 v3.60 M88.00,399.30 v3.60 M90.00,399.30 v3.60 M96.00,409.00 v3.60 M97.50,409.00 v3.60 M99.00,409.00 v3.60 M100.80,409.00 v3.60 M110.80,409.00 v3.60 M116.90,409.00 v3.60 M120.80,409.00 v3.60 M124.60,409.00 v3.60 M126.10,409.00 v3.60 M128.50,409.00 v3.60 M129.40,409.00 v3.60 M132.30,409.00 v3.60 M136.00,424.20 v3.60 M140.50,424.20 v3.60 M146.00,424.20 v3.60 M152.70,424.20 v3.60 M154.90,424.20 v3.60 M206.90,424.20 v3.60 M214.60,424.20 v3.60" stroke="#1a1a1a" stroke-width="1.3" fill="none"/>
<path d="M45.50,350.50 h3.0 M76.50,401.10 h3.0 M78.50,401.10 h3.0 M81.00,401.10 h3.0 M83.50,401.10 h3.0 M86.50,401.10 h3.0 M88.50,401.10 h3.0 M94.50,410.80 h3.0 M96.00,410.80 h3.0 M97.50,410.80 h3.0 M99.30,410.80 h3.0 M109.30,410.80 h3.0 M115.40,410.80 h3.0 M119.30,410.80 h3.0 M123.10,410.80 h3.0 M124.60,410.80 h3.0 M127.00,410.80 h3.0 M127.90,410.80 h3.0 M130.80,410.80 h3.0 M134.50,426.00 h3.0 M139.00,426.00 h3.0 M144.50,426.00 h3.0 M151.20,426.00 h3.0 M153.40,426.00 h3.0 M205.40,426.00 h3.0 M213.10,426.00 h3.0" stroke="#1a1a1a" stroke-width="1.8" fill="none"/>
<rect x="297.70" y="339.00" width="216.30" height="218.10" fill="#f6f6f6"/>
<path d="M295.8,337.1 H515.9 V559.0" fill="none" stroke="#9c9c9c" stroke-width="1.5"/>
<path d="M295.8,337.1 V559.0 H515.9" fill="none" stroke="#686868" stroke-width="1.35"/>
<path d="M290.60,548.10 H295.8" stroke="#444" stroke-width="1.3"/>
<text x="289.5" y="550.3" font-size="7.8" text-anchor="end" font-weight="normal" fill="#3a3a3a" textLength="8.3" lengthAdjust="spacingAndGlyphs" >0.0</text>
<path d="M290.60,508.14 H295.8" stroke="#444" stroke-width="1.3"/>
<text x="289.5" y="510.34" font-size="7.8" text-anchor="end" font-weight="normal" fill="#3a3a3a" textLength="8.3" lengthAdjust="spacingAndGlyphs" >0.2</text>
<path d="M290.60,468.18 H295.8" stroke="#444" stroke-width="1.3"/>
<text x="289.5" y="470.38" font-size="7.8" text-anchor="end" font-weight="normal" fill="#3a3a3a" textLength="8.3" lengthAdjust="spacingAndGlyphs" >0.4</text>
<path d="M290.60,428.22 H295.8" stroke="#444" stroke-width="1.3"/>
<text x="289.5" y="430.42" font-size="7.8" text-anchor="end" font-weight="normal" fill="#3a3a3a" textLength="8.3" lengthAdjust="spacingAndGlyphs" >0.6</text>
<path d="M290.60,388.26 H295.8" stroke="#444" stroke-width="1.3"/>
<text x="289.5" y="390.46" font-size="7.8" text-anchor="end" font-weight="normal" fill="#3a3a3a" textLength="8.3" lengthAdjust="spacingAndGlyphs" >0.8</text>
<path d="M290.60,348.30 H295.8" stroke="#444" stroke-width="1.3"/>
<text x="289.5" y="350.5" font-size="7.8" text-anchor="end" font-weight="normal" fill="#3a3a3a" textLength="8.3" lengthAdjust="spacingAndGlyphs" >1.0</text>
<path d="M306.50,559.0 V565.3" stroke="#444" stroke-width="1.3"/>
<text x="306.5" y="574.3" font-size="8.2" text-anchor="middle" font-weight="normal" fill="#333" textLength="3.1" lengthAdjust="spacingAndGlyphs" >0</text>
<path d="M330.28,559.0 V565.3" stroke="#444" stroke-width="1.3"/>
<text x="330.28" y="574.3" font-size="8.2" text-anchor="middle" font-weight="normal" fill="#333" textLength="6.2" lengthAdjust="spacingAndGlyphs" >12</text>
<path d="M354.06,559.0 V565.3" stroke="#444" stroke-width="1.3"/>
<text x="354.06" y="574.3" font-size="8.2" text-anchor="middle" font-weight="normal" fill="#333" textLength="6.2" lengthAdjust="spacingAndGlyphs" >24</text>
<path d="M377.84,559.0 V565.3" stroke="#444" stroke-width="1.3"/>
<text x="377.84" y="574.3" font-size="8.2" text-anchor="middle" font-weight="normal" fill="#333" textLength="6.2" lengthAdjust="spacingAndGlyphs" >36</text>
<path d="M401.62,559.0 V565.3" stroke="#444" stroke-width="1.3"/>
<text x="401.62" y="574.3" font-size="8.2" text-anchor="middle" font-weight="normal" fill="#333" textLength="6.2" lengthAdjust="spacingAndGlyphs" >48</text>
<path d="M425.40,559.0 V565.3" stroke="#444" stroke-width="1.3"/>
<text x="425.4" y="574.3" font-size="8.2" text-anchor="middle" font-weight="normal" fill="#333" textLength="6.2" lengthAdjust="spacingAndGlyphs" >60</text>
<path d="M449.18,559.0 V565.3" stroke="#444" stroke-width="1.3"/>
<text x="449.18" y="574.3" font-size="8.2" text-anchor="middle" font-weight="normal" fill="#333" textLength="6.2" lengthAdjust="spacingAndGlyphs" >72</text>
<path d="M472.96,559.0 V565.3" stroke="#444" stroke-width="1.3"/>
<text x="472.96" y="574.3" font-size="8.2" text-anchor="middle" font-weight="normal" fill="#333" textLength="6.2" lengthAdjust="spacingAndGlyphs" >84</text>
<path d="M496.74,559.0 V565.3" stroke="#444" stroke-width="1.3"/>
<text x="496.74" y="574.3" font-size="8.2" text-anchor="middle" font-weight="normal" fill="#333" textLength="6.2" lengthAdjust="spacingAndGlyphs" >96</text>
<text x="285.4" y="325.3" font-size="13.5" text-anchor="start" font-weight="bold" fill="#161616" textLength="6.6" lengthAdjust="spacingAndGlyphs" >d</text>
<text x="366.9" y="318.6" font-size="10" text-anchor="start" font-weight="bold" fill="#262626" textLength="64.4" lengthAdjust="spacingAndGlyphs" >Overall survival</text>
<text x="374.7" y="333.3" font-size="8.2" text-anchor="start" font-weight="normal" fill="#555" textLength="49.3" lengthAdjust="spacingAndGlyphs" >with rituximab</text>
<text x="406.5" y="590.2" font-size="9.6" text-anchor="middle" font-weight="bold" fill="#222" textLength="37" lengthAdjust="spacingAndGlyphs" >(months)</text>
<text x="312.2" y="544.4" font-size="8.6" text-anchor="start" font-weight="normal" fill="#333" textLength="26.0" lengthAdjust="spacingAndGlyphs" >P=0.003</text>
<text x="456.8" y="348.4" font-size="8.2" text-anchor="start" font-weight="normal" fill="#222" textLength="30.9" lengthAdjust="spacingAndGlyphs" >Very good</text>
<text x="480.0" y="385.25" font-size="8.8" text-anchor="start" font-weight="normal" fill="#222" textLength="16.7" lengthAdjust="spacingAndGlyphs" >Good</text>
<text x="462.8" y="431.75" font-size="8.6" text-anchor="start" font-weight="normal" fill="#222" textLength="14.7" lengthAdjust="spacingAndGlyphs" >Poor</text>
<text x="273.8" y="448.2" font-size="8.6" text-anchor="middle" font-weight="bold" fill="#1a1a1a" textLength="64" lengthAdjust="spacingAndGlyphs" transform="rotate(-90 273.8 448.2)">Cum Survival</text>
<path d="M314.40,348.10 L323.75,348.10 L324.40,348.10 L324.40,351.90 L327.50,351.90 L328.10,351.90 L328.10,356.10 L489.25,356.10" fill="none" stroke="#1a1a1a" stroke-width="1.15" stroke-linejoin="miter" stroke-linecap="butt"/>
<path d="M342.50,354.30 v3.60 M347.50,354.30 v3.60 M349.00,354.30 v3.60 M350.50,354.30 v3.60 M352.00,354.30 v3.60 M353.50,354.30 v3.60 M355.00,354.30 v3.60 M356.50,354.30 v3.60 M358.00,354.30 v3.60 M359.50,354.30 v3.60 M361.00,354.30 v3.60 M362.50,354.30 v3.60 M364.00,354.30 v3.60 M365.50,354.30 v3.60 M367.00,354.30 v3.60 M368.50,354.30 v3.60 M370.00,354.30 v3.60 M371.50,354.30 v3.60 M373.00,354.30 v3.60 M374.50,354.30 v3.60 M376.00,354.30 v3.60 M377.50,354.30 v3.60 M379.00,354.30 v3.60 M383.50,354.30 v3.60 M390.40,354.30 v3.60 M394.20,354.30 v3.60 M395.80,354.30 v3.60 M398.75,354.30 v3.60 M404.20,354.30 v3.60 M406.25,354.30 v3.60 M415.80,354.30 v3.60 M421.90,354.30 v3.60 M425.80,354.30 v3.60 M489.25,354.30 v3.60" stroke="#1a1a1a" stroke-width="1.3" fill="none"/>
<path d="M341.00,356.10 h3.0 M346.00,356.10 h3.0 M347.50,356.10 h3.0 M349.00,356.10 h3.0 M350.50,356.10 h3.0 M352.00,356.10 h3.0 M353.50,356.10 h3.0 M355.00,356.10 h3.0 M356.50,356.10 h3.0 M358.00,356.10 h3.0 M359.50,356.10 h3.0 M361.00,356.10 h3.0 M362.50,356.10 h3.0 M364.00,356.10 h3.0 M365.50,356.10 h3.0 M367.00,356.10 h3.0 M368.50,356.10 h3.0 M370.00,356.10 h3.0 M371.50,356.10 h3.0 M373.00,356.10 h3.0 M374.50,356.10 h3.0 M376.00,356.10 h3.0 M377.50,356.10 h3.0 M382.00,356.10 h3.0 M388.90,356.10 h3.0 M392.70,356.10 h3.0 M394.30,356.10 h3.0 M397.25,356.10 h3.0 M402.70,356.10 h3.0 M404.75,356.10 h3.0 M414.30,356.10 h3.0 M420.40,356.10 h3.0 M424.30,356.10 h3.0 M487.75,356.10 h3.0" stroke="#1a1a1a" stroke-width="1.8" fill="none"/>
<path d="M314.40,348.10 L317.50,348.10 L317.50,351.90 L321.25,351.90 L321.25,355.00 L323.44,355.00 L323.44,355.62 L327.81,355.62 L327.81,356.25 L330.00,356.25 L330.94,356.25 L330.94,358.12 L332.81,358.12 L332.81,360.00 L333.75,360.00 L335.00,360.00 L335.00,362.20 L337.50,362.20 L337.50,364.40 L338.75,364.40 L342.50,364.40 L342.50,366.25 L346.25,366.25 L346.25,368.75 L348.75,368.75 L348.75,370.00 L358.80,370.00 L359.60,370.00 L359.60,373.40 L387.30,373.40 L388.10,373.40 L388.10,377.70 L389.83,377.70 L389.83,377.85 L393.27,377.85 L393.27,378.00 L395.00,378.00 L395.13,378.00 L395.13,381.90 L395.40,381.90 L395.40,385.80 L395.67,385.80 L395.67,389.70 L395.80,389.70 L422.70,389.70 L422.83,389.70 L422.83,392.97 L423.10,392.97 L423.10,396.23 L423.37,396.23 L423.37,399.50 L423.50,399.50 L501.25,399.50" fill="none" stroke="#1a1a1a" stroke-width="1.15" stroke-linejoin="miter" stroke-linecap="butt"/>
<path d="M337.00,360.40 v3.60 M341.00,362.60 v3.60 M344.00,364.45 v3.60 M347.00,366.95 v3.60 M350.00,368.20 v3.60 M352.00,368.20 v3.60 M354.00,368.20 v3.60 M356.00,368.20 v3.60 M358.00,368.20 v3.60 M361.00,371.60 v3.60 M363.00,371.60 v3.60 M365.00,371.60 v3.60 M367.00,371.60 v3.60 M369.00,371.60 v3.60 M371.00,371.60 v3.60 M373.00,371.60 v3.60 M375.00,371.60 v3.60 M377.00,371.60 v3.60 M379.00,371.60 v3.60 M381.00,371.60 v3.60 M383.00,371.60 v3.60 M385.50,371.60 v3.60 M389.60,375.90 v3.60 M393.50,376.20 v3.60 M396.50,387.90 v3.60 M404.20,387.90 v3.60 M408.80,387.90 v3.60 M413.50,387.90 v3.60 M417.30,387.90 v3.60 M421.20,387.90 v3.60 M425.00,397.70 v3.60 M428.80,397.70 v3.60 M432.70,397.70 v3.60 M440.00,397.70 v3.60 M442.50,397.70 v3.60 M450.00,397.70 v3.60 M461.25,397.70 v3.60 M469.50,397.70 v3.60 M481.25,397.70 v3.60 M501.25,397.70 v3.60" stroke="#1a1a1a" stroke-width="1.3" fill="none"/>
<path d="M335.50,362.20 h3.0 M339.50,364.40 h3.0 M342.50,366.25 h3.0 M345.50,368.75 h3.0 M348.50,370.00 h3.0 M350.50,370.00 h3.0 M352.50,370.00 h3.0 M354.50,370.00 h3.0 M356.50,370.00 h3.0 M359.50,373.40 h3.0 M361.50,373.40 h3.0 M363.50,373.40 h3.0 M365.50,373.40 h3.0 M367.50,373.40 h3.0 M369.50,373.40 h3.0 M371.50,373.40 h3.0 M373.50,373.40 h3.0 M375.50,373.40 h3.0 M377.50,373.40 h3.0 M379.50,373.40 h3.0 M381.50,373.40 h3.0 M384.00,373.40 h3.0 M388.10,377.70 h3.0 M392.00,378.00 h3.0 M395.00,389.70 h3.0 M402.70,389.70 h3.0 M407.30,389.70 h3.0 M412.00,389.70 h3.0 M415.80,389.70 h3.0 M419.70,389.70 h3.0 M423.50,399.50 h3.0 M427.30,399.50 h3.0 M431.20,399.50 h3.0 M438.50,399.50 h3.0 M441.00,399.50 h3.0 M448.50,399.50 h3.0 M459.75,399.50 h3.0 M468.00,399.50 h3.0 M479.75,399.50 h3.0 M499.75,399.50 h3.0" stroke="#1a1a1a" stroke-width="1.8" fill="none"/>
<path d="M314.40,348.10 L314.40,350.00 L317.50,350.00 L317.50,351.25 L318.44,351.25 L318.44,353.43 L320.31,353.43 L320.31,355.60 L321.25,355.60 L323.10,355.60 L323.10,360.00 L323.75,360.00 L323.75,365.00 L324.21,365.00 L324.21,368.12 L325.14,368.12 L325.14,371.25 L325.60,371.25 L328.10,371.25 L328.10,375.00 L330.00,375.00 L330.00,380.00 L331.25,380.00 L331.25,385.00 L333.75,385.00 L333.75,388.75 L335.00,388.75 L335.00,391.90 L336.56,391.90 L336.56,392.20 L339.69,392.20 L339.69,392.50 L341.25,392.50 L343.10,392.50 L343.10,395.60 L357.50,395.60 L358.75,395.60 L358.75,398.75 L361.25,398.75 L361.25,401.25 L361.90,401.25 L361.90,405.40 L400.60,405.40 L400.68,405.40 L400.68,409.05 L400.82,409.05 L400.82,412.70 L400.98,412.70 L400.98,416.35 L401.12,416.35 L401.12,420.00 L401.20,420.00 L481.25,420.00" fill="none" stroke="#1a1a1a" stroke-width="1.15" stroke-linejoin="miter" stroke-linecap="butt"/>
<path d="M346.25,393.80 v3.60 M352.50,393.80 v3.60 M356.25,393.80 v3.60 M360.00,396.95 v3.60 M362.70,403.60 v3.60 M364.00,403.60 v3.60 M365.50,403.60 v3.60 M367.00,403.60 v3.60 M368.80,403.60 v3.60 M378.10,403.60 v3.60 M384.20,403.60 v3.60 M388.10,403.60 v3.60 M391.90,403.60 v3.60 M395.00,403.60 v3.60 M398.80,403.60 v3.60 M403.50,418.20 v3.60 M407.30,418.20 v3.60 M413.50,418.20 v3.60 M419.60,418.20 v3.60 M422.70,418.20 v3.60 M425.80,418.20 v3.60 M473.75,418.20 v3.60 M481.25,418.20 v3.60" stroke="#1a1a1a" stroke-width="1.3" fill="none"/>
<path d="M344.75,395.60 h3.0 M351.00,395.60 h3.0 M354.75,395.60 h3.0 M358.50,398.75 h3.0 M361.20,405.40 h3.0 M362.50,405.40 h3.0 M364.00,405.40 h3.0 M365.50,405.40 h3.0 M367.30,405.40 h3.0 M376.60,405.40 h3.0 M382.70,405.40 h3.0 M386.60,405.40 h3.0 M390.40,405.40 h3.0 M393.50,405.40 h3.0 M397.30,405.40 h3.0 M402.00,420.00 h3.0 M405.80,420.00 h3.0 M412.00,420.00 h3.0 M418.10,420.00 h3.0 M421.20,420.00 h3.0 M424.30,420.00 h3.0 M472.25,420.00 h3.0 M479.75,420.00 h3.0" stroke="#1a1a1a" stroke-width="1.8" fill="none"/>
</svg>
</body></html>
